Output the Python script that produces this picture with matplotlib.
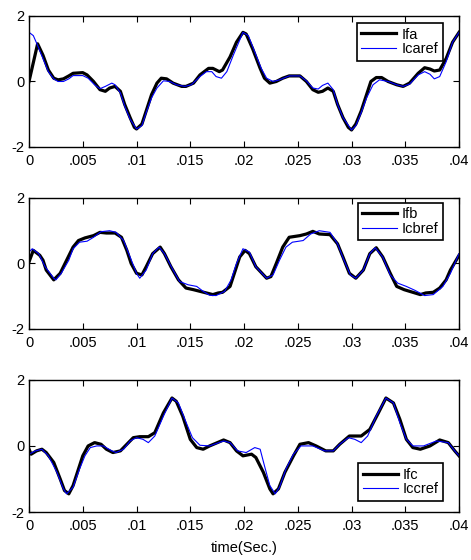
import matplotlib
matplotlib.use("Agg")
import matplotlib.pyplot as plt

plt.rcParams['font.family'] = ['Liberation Sans Narrow', 'Liberation Sans', 'DejaVu Sans']

# ---- Phase a ----
t_ifa = [0, 0.0008, 0.0013, 0.0018, 0.0023, 0.0027, 0.0032, 0.0037, 0.0041, 0.005, 0.0054, 0.006,
         0.0066, 0.0071, 0.0075, 0.008, 0.0085, 0.0089, 0.0094, 0.0098, 0.01, 0.0105, 0.0109, 0.0114,
         0.0119, 0.0123, 0.0128, 0.0134, 0.0142, 0.0146, 0.0153, 0.0159, 0.0167, 0.0171, 0.0177, 0.018,
         0.0187, 0.0193, 0.0199, 0.0202, 0.0208, 0.0215, 0.0219, 0.0224, 0.023, 0.0236, 0.0242, 0.0252,
         0.0258, 0.0264, 0.0269, 0.0273, 0.0278, 0.0283, 0.0287, 0.0292, 0.0297, 0.03, 0.0304, 0.0309,
         0.0314, 0.0318, 0.0323, 0.0328, 0.0334, 0.0342, 0.0348, 0.0354, 0.0362, 0.0368, 0.0373, 0.0377,
         0.0382, 0.0388, 0.0394, 0.04]
ifa = [0, 1.15, 0.8, 0.35, 0.1, 0.05, 0.08, 0.17, 0.25, 0.27, 0.2, 0.0,
       -0.25, -0.3, -0.2, -0.15, -0.3, -0.7, -1.1, -1.4, -1.45, -1.3, -0.9, -0.4,
       -0.05, 0.1, 0.08, -0.05, -0.15, -0.15, -0.05, 0.2, 0.4, 0.4, 0.3, 0.35,
       0.75, 1.2, 1.5, 1.45, 1.0, 0.4, 0.1, -0.05, 0.0, 0.1, 0.17, 0.17,
       0.0, -0.25, -0.33, -0.3, -0.2, -0.3, -0.7, -1.1, -1.4, -1.48, -1.3, -0.9,
       -0.4, 0.0, 0.12, 0.12, 0.0, -0.1, -0.15, -0.05, 0.25, 0.42, 0.38, 0.32,
       0.35, 0.7, 1.2, 1.5]

t_icaref = [0, 0.0004, 0.0008, 0.0013, 0.0018, 0.0023, 0.0027, 0.0032, 0.0037, 0.0041, 0.005, 0.0055,
            0.0061, 0.0066, 0.0071, 0.0077, 0.008, 0.0085, 0.0089, 0.0094, 0.01, 0.0105, 0.0109, 0.0114,
            0.0119, 0.0125, 0.0131, 0.0137, 0.0145, 0.0151, 0.0159, 0.0165, 0.017, 0.0174, 0.0179, 0.0184,
            0.019, 0.0199, 0.0204, 0.021, 0.0216, 0.0221, 0.0227, 0.0233, 0.0242, 0.0252, 0.0258, 0.0264,
            0.0269, 0.0273, 0.0278, 0.0283, 0.0287, 0.0292, 0.03, 0.0304, 0.0309, 0.0314, 0.032, 0.0326,
            0.0334, 0.0342, 0.0348, 0.0354, 0.0362, 0.0368, 0.0373, 0.0377, 0.0382, 0.0388, 0.0394, 0.04]
icaref = [1.5, 1.4, 1.1, 0.7, 0.3, 0.08, 0.0, 0.0, 0.08, 0.18, 0.18, 0.1,
          -0.1, -0.22, -0.15, -0.05, -0.1, -0.35, -0.75, -1.15, -1.45, -1.35, -0.95, -0.5,
          -0.2, 0.02, 0.0, -0.1, -0.15, -0.1, 0.15, 0.3, 0.3, 0.15, 0.1, 0.3,
          0.8, 1.5, 1.4, 0.9, 0.4, 0.1, 0.0, 0.05, 0.17, 0.17, 0.02, -0.2,
          -0.23, -0.12, -0.05, -0.25, -0.7, -1.1, -1.48, -1.35, -0.95, -0.5, -0.1, 0.05,
          0.0, -0.1, -0.15, -0.08, 0.2, 0.3, 0.22, 0.08, 0.15, 0.6, 1.2, 1.5]

# ---- Phase b ----
t_ifb = [0, 0.0004, 0.001, 0.0013, 0.0016, 0.0023, 0.0029, 0.0035, 0.0041, 0.0046, 0.0052, 0.006,
         0.0066, 0.0072, 0.008, 0.0086, 0.0091, 0.0095, 0.01, 0.0105, 0.0109, 0.0115, 0.0122, 0.0126,
         0.0132, 0.0139, 0.0146, 0.0153, 0.0159, 0.0165, 0.0171, 0.0176, 0.018, 0.0187, 0.0191, 0.0196,
         0.0201, 0.0205, 0.0211, 0.0221, 0.0225, 0.023, 0.0236, 0.0242, 0.0252, 0.0258, 0.0264, 0.027,
         0.028, 0.0287, 0.0292, 0.0298, 0.0304, 0.0311, 0.0317, 0.0323, 0.0329, 0.0336, 0.0342, 0.0349,
         0.0357, 0.0364, 0.0369, 0.0376, 0.0382, 0.0388, 0.0392, 0.04]
ifb = [0.05, 0.4, 0.25, 0.1, -0.2, -0.5, -0.3, 0.1, 0.5, 0.7, 0.78, 0.85,
       0.95, 0.93, 0.93, 0.8, 0.4, 0.0, -0.3, -0.35, -0.1, 0.3, 0.5, 0.3,
       -0.1, -0.5, -0.75, -0.8, -0.85, -0.9, -0.95, -0.9, -0.88, -0.7, -0.3, 0.2,
       0.4, 0.3, -0.1, -0.45, -0.4, 0.0, 0.5, 0.8, 0.85, 0.9, 0.98, 0.9,
       0.88, 0.6, 0.2, -0.3, -0.45, -0.2, 0.3, 0.48, 0.2, -0.3, -0.7, -0.8,
       -0.88, -0.95, -0.9, -0.88, -0.75, -0.5, -0.2, 0.25]

t_icbref = [0, 0.0003, 0.0009, 0.0015, 0.0023, 0.0025, 0.003, 0.0037, 0.0041, 0.0047, 0.0054, 0.006,
            0.0067, 0.0075, 0.0081, 0.0088, 0.0094, 0.01, 0.0103, 0.0109, 0.0115, 0.0121, 0.0126, 0.0134,
            0.014, 0.0148, 0.0156, 0.0162, 0.0168, 0.0174, 0.0182, 0.0188, 0.0193, 0.0199, 0.0205, 0.0211,
            0.0221, 0.0227, 0.0233, 0.0239, 0.0245, 0.0255, 0.0262, 0.027, 0.028, 0.0287, 0.0293, 0.0299,
            0.0304, 0.0311, 0.0317, 0.0322, 0.0329, 0.0336, 0.0343, 0.0351, 0.0359, 0.0368, 0.0376, 0.0385,
            0.0392, 0.04]
icbref = [0.35, 0.45, 0.3, -0.1, -0.45, -0.5, -0.3, 0.1, 0.45, 0.65, 0.68, 0.8,
          0.97, 1.0, 0.95, 0.7, 0.2, -0.3, -0.45, -0.2, 0.3, 0.5, 0.3, -0.2,
          -0.55, -0.65, -0.7, -0.85, -0.97, -0.98, -0.85, -0.5, 0.0, 0.45, 0.35, -0.1,
          -0.45, -0.35, 0.1, 0.5, 0.65, 0.7, 0.9, 1.0, 0.95, 0.6, 0.1, -0.35,
          -0.45, -0.2, 0.3, 0.48, 0.2, -0.35, -0.6, -0.7, -0.82, -0.98, -0.95, -0.7,
          -0.3, 0.3]

# ---- Phase c ----
t_ifc = [0, 0.0002, 0.0007, 0.0012, 0.0016, 0.0023, 0.0029, 0.0033, 0.0037, 0.0041, 0.0046, 0.005,
         0.0055, 0.0061, 0.0067, 0.0072, 0.0078, 0.0085, 0.0091, 0.0097, 0.0103, 0.0111, 0.0117, 0.0125,
         0.0133, 0.0137, 0.0143, 0.015, 0.0156, 0.0162, 0.0168, 0.0181, 0.0187, 0.0193, 0.0199, 0.0207,
         0.0211, 0.0218, 0.0224, 0.0227, 0.0232, 0.0238, 0.0246, 0.0252, 0.026, 0.0267, 0.0276, 0.0283,
         0.0289, 0.0298, 0.0309, 0.0317, 0.0325, 0.0332, 0.0339, 0.0345, 0.0351, 0.0357, 0.0364, 0.0373,
         0.0382, 0.039, 0.0396, 0.04]
ifc = [-0.1, -0.25, -0.15, -0.1, -0.2, -0.5, -1.0, -1.35, -1.45, -1.2, -0.7, -0.3,
       0.0, 0.1, 0.05, -0.1, -0.2, -0.15, 0.05, 0.25, 0.28, 0.28, 0.4, 1.0,
       1.45, 1.35, 0.9, 0.2, -0.05, -0.1, 0.0, 0.18, 0.1, -0.15, -0.3, -0.25,
       -0.35, -0.8, -1.3, -1.45, -1.3, -0.8, -0.3, 0.05, 0.1, 0.0, -0.15, -0.15,
       0.05, 0.3, 0.3, 0.5, 1.0, 1.45, 1.3, 0.8, 0.2, -0.05, -0.1, 0.0,
       0.18, 0.1, -0.15, -0.3]

t_iccref = [0, 0.0006, 0.0012, 0.0018, 0.0026, 0.0032, 0.0035, 0.0041, 0.0047, 0.0052, 0.0057, 0.0063,
            0.0069, 0.0077, 0.0081, 0.0088, 0.0094, 0.01, 0.0106, 0.0111, 0.0117, 0.0125, 0.0133, 0.0139,
            0.0145, 0.0152, 0.0159, 0.0168, 0.0181, 0.0187, 0.0194, 0.0202, 0.021, 0.0215, 0.0219, 0.0224,
            0.0229, 0.0233, 0.0239, 0.0246, 0.0253, 0.0264, 0.0275, 0.0283, 0.0289, 0.0297, 0.0303, 0.0309,
            0.0315, 0.0323, 0.0332, 0.0339, 0.0345, 0.0351, 0.0357, 0.0367, 0.0379, 0.039, 0.0396, 0.04]
iccref = [-0.25, -0.15, -0.1, -0.3, -0.8, -1.3, -1.45, -1.25, -0.7, -0.3, -0.05, 0.0,
          0.0, -0.15, -0.2, -0.1, 0.15, 0.25, 0.2, 0.1, 0.3, 0.9, 1.45, 1.3,
          0.8, 0.25, 0.02, 0.0, 0.15, 0.1, -0.15, -0.2, -0.05, -0.1, -0.6, -1.2,
          -1.45, -1.25, -0.7, -0.25, 0.0, 0.0, -0.15, -0.15, 0.05, 0.25, 0.2, 0.1,
          0.3, 0.9, 1.45, 1.3, 0.7, 0.2, 0.0, 0.0, 0.15, 0.1, -0.15, -0.3]

x_ticks = [0, 0.005, 0.01, 0.015, 0.02, 0.025, 0.03, 0.035, 0.04]
x_ticklabels = ['0', '.005', '.01', '.015', '.02', '.025', '.03', '.035', '.04']
y_ticks = [-2, 0, 2]
y_ticklabels = ['-2', '0', '2']

panels = [
    (t_ifa, ifa, t_icaref, icaref, 'Ifa', 'Icaref', 'upper right', (0.962, 0.945)),
    (t_ifb, ifb, t_icbref, icbref, 'Ifb', 'Icbref', 'upper right', (0.963, 0.965)),
    (t_ifc, ifc, t_iccref, iccref, 'Ifc', 'Iccref', 'lower right', (0.963, 0.085)),
]

fig = plt.figure(figsize=(4.71, 5.6), dpi=100)
rects = [
    [0.0616, 0.7375, 0.913, 0.234],
    [0.0616, 0.4125, 0.913, 0.234],
    [0.0616, 0.0857, 0.913, 0.236],
]

for rect, (tb, yb, tr, yr, lb, lr, loc, anchor) in zip(rects, panels):
    ax = fig.add_axes(rect)
    ax.plot(tb, yb, color='black', lw=2.3, label=lb, solid_joinstyle='round')
    ax.plot(tr, yr, color='#0000ff', lw=0.8, label=lr, solid_joinstyle='round')
    ax.set_xlim(0, 0.04)
    ax.set_ylim(-2, 2)
    ax.set_xticks(x_ticks)
    ax.set_xticklabels(x_ticklabels)
    ax.set_yticks(y_ticks)
    ax.set_yticklabels(y_ticklabels)
    ax.tick_params(direction='in', top=True, right=True, length=4, width=0.8,
                   labelsize=10.5)
    ax.tick_params(axis='x', pad=5)
    ax.tick_params(axis='y', pad=3)
    for s in ax.spines.values():
        s.set_linewidth(1.0)
    leg = ax.legend(loc=loc, bbox_to_anchor=anchor, fancybox=False, framealpha=1,
                    edgecolor='black', fontsize=10.5, handlelength=2.4,
                    borderpad=0.3, labelspacing=0.05, handletextpad=0.35,
                    borderaxespad=0.0)
    leg.get_frame().set_linewidth(1.2)
    if lb == 'Ifc':
        ax.set_xlabel('time(Sec.)', fontsize=10.5, labelpad=6)

fig.savefig('out.png', dpi=100)
